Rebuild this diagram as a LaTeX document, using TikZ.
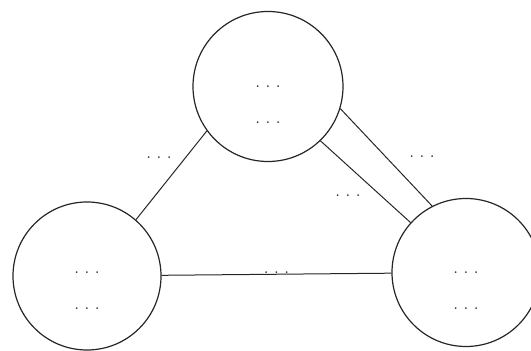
\documentclass[tikz,border=0pt]{standalone}
\usepackage{tikz}

\newcommand{\tdots}{\textbf{.}\hspace{6.5pt}\textbf{.}\hspace{6.5pt}\textbf{.}}

\tikzset{
  state/.style={draw=black!85, line width=1.2pt, circle, minimum size=#1, inner sep=0pt},
  link/.style={draw=black!85, line width=1pt},
  lbl/.style={inner sep=0pt, font=\large, text=black!85},
  inner/.style={inner sep=0pt, align=center, font=\large, text=black!85}
}

\begin{document}
\begin{tikzpicture}[x=1pt, y=1pt]
  \useasboundingbox (0,0) rectangle (531,351);

  % Circles
  \node[state=150pt] (top) at (268,264.5) {};
  \node[state=148pt] (left) at (87,75) {};
  \node[state=148pt] (right) at (466,78.5) {};

  % Texts inside
  \node[inner] (toptxt) at ([yshift=-18pt]top.center) {\tdots\\[22pt]\tdots};
  \node[inner] (lefttxt) at ([yshift=-15pt]left.center) {\tdots\\[22pt]\tdots};
  \node[inner] (righttxt) at ([yshift=-18pt]right.center) {\tdots\\[22pt]\tdots};

  % Links
  \draw[link] (left.49) -- (top.216);
  \draw[link] (left) -- (right) node[lbl, midway, above=0.5pt] (lb) {\tdots};
  \draw[link] (top.-17) -- (right.117);
  \draw[link] (top.-46) -- (right.138);

  % Link labels
  \node[lbl] (la) at (159,193) {\tdots};
  \node[lbl] (lc) at (422,194) {\tdots};
  \node[lbl] (ld) at (348,155) {\tdots};
\end{tikzpicture}
\end{document}
